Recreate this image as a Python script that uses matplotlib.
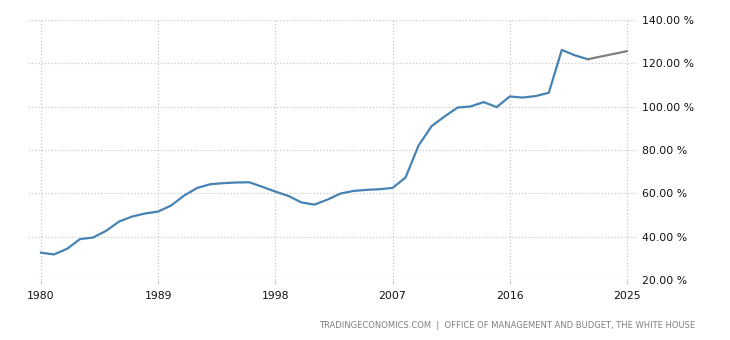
import matplotlib
matplotlib.use("Agg")
import matplotlib.pyplot as plt

years = list(range(1980, 2023))
debt = [32.6, 31.8, 34.4, 38.9, 39.6, 42.7, 47.0, 49.3, 50.7, 51.6,
        54.4, 59.0, 62.5, 64.2, 64.7, 65.0, 65.1, 63.0, 60.8, 58.8,
        55.8, 54.8, 57.1, 59.9, 61.1, 61.6, 61.9, 62.5, 67.3, 82.1,
        91.0, 95.5, 99.6, 100.1, 102.1, 99.8, 104.7, 104.2, 104.9, 106.4,
        126.2, 123.7, 121.9]
fc_years = [2022, 2025]
fc_debt = [121.9, 125.6]

xticks = [1980, 1989, 1998, 2007, 2016, 2025]
yticks = [20, 40, 60, 80, 100, 120, 140]

fig = plt.figure(figsize=(7.3, 3.4), dpi=100)
ax = fig.add_axes([28 / 730, 1 - 280 / 340, 608 / 730, 260 / 340])

ax.plot(years, debt, color="#4682b4", lw=1.6)
ax.plot(fc_years, fc_debt, color="#808080", lw=1.6)

ax.set_xlim(1979.0, 2025.7)
ax.set_ylim(20, 140)
ax.set_xticks(xticks)
ax.set_yticks(yticks)
ax.set_yticklabels(["%.2f %%" % v for v in yticks])
ax.yaxis.tick_right()
ax.grid(True, color="#c8c8c8", ls=":", lw=0.9)
for s in ax.spines.values():
    s.set_visible(False)
ax.tick_params(axis="y", length=0, pad=4, labelsize=7.8, labelcolor="#111111")
ax.tick_params(axis="x", length=3, color="#c8c8c8", pad=5, labelsize=7.8, labelcolor="#111111")

fig.text(695 / 730, 1 - 325 / 340, "TRADINGECONOMICS.COM  |  OFFICE OF MANAGEMENT AND BUDGET, THE WHITE HOUSE",
         ha="right", va="center", fontsize=6.0, color="#808080")

fig.savefig("out.png", dpi=100)
